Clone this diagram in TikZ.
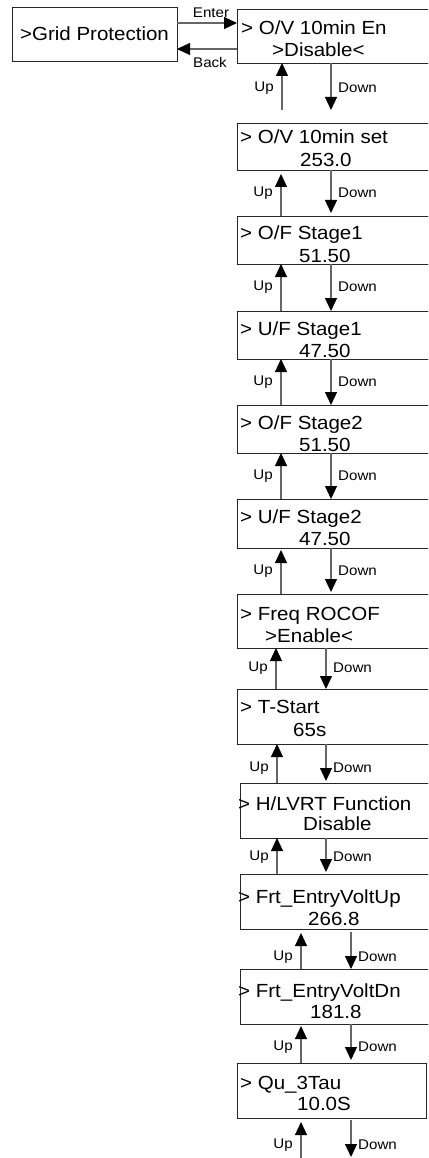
\documentclass[tikz,border=0pt]{standalone}
\usepackage{fontspec}
\setmainfont{Liberation Sans}
\usepackage{graphicx}
\usetikzlibrary{arrows.meta}
\newcommand{\bt}[1]{\scalebox{1.08}[1]{#1}}
\begin{document}
\begin{tikzpicture}[x=1pt,y=-1pt,
  box/.style={draw=black!85, line width=0.9pt, anchor=north west, inner sep=0pt, outer sep=0pt},
  txt/.style={anchor=base west, inner sep=0pt, font=\fontsize{19}{22}\selectfont},
  lab/.style={inner sep=0pt, font=\fontsize{14}{16}\selectfont},
  nav/.style={draw=black!60, line width=1.2pt, -{Triangle[length=13pt,width=12pt,color=black]}},
]
\clip (0,0) rectangle (428,1158);
% boxes
\node[box, minimum width=165pt, minimum height=54pt] (g) at (12,7) {};
\node[font=\fontsize{19}{22}\selectfont, inner sep=0pt] (gt) at (94.5,34) {\bt{>Grid Protection}};
\node[box, minimum width=210pt, minimum height=54pt] (b1) at (237,9) {};
\node[box, minimum width=210pt, minimum height=47pt] (b2) at (237,123) {};
\node[box, minimum width=210pt, minimum height=48pt] (b3) at (237,216) {};
\node[box, minimum width=210pt, minimum height=48pt] (b4) at (237,311) {};
\node[box, minimum width=210pt, minimum height=48pt] (b5) at (237,405) {};
\node[box, minimum width=210pt, minimum height=49pt] (b6) at (237,499) {};
\node[box, minimum width=210pt, minimum height=54pt] (b7) at (237,594) {};
\node[box, minimum width=210pt, minimum height=55pt] (b8) at (237,689) {};
\node[box, minimum width=210pt, minimum height=55pt] (b9) at (240,783) {};
\node[box, minimum width=210pt, minimum height=55pt] (b10) at (240,874) {};
\node[box, minimum width=210pt, minimum height=55pt] (b11) at (240,969) {};
\node[box, minimum width=189pt, minimum height=55pt] (b12) at (237,1063) {};
% texts
\node[txt] (t1a) at (241,35) {\bt{> O/V 10min En}};
\node[txt] (t1b) at (272,57) {\bt{>Disable<}};
\node[txt] (t2a) at (240,144) {\bt{> O/V 10min set}};
\node[txt] (t2b) at (300,167) {\bt{253.0}};
\node[txt] (t3a) at (240,240) {\bt{> O/F Stage1}};
\node[txt] (t3b) at (299,262) {\bt{51.50}};
\node[txt] (t4a) at (240,335) {\bt{> U/F Stage1}};
\node[txt] (t4b) at (299,357) {\bt{47.50}};
\node[txt] (t5a) at (240,429) {\bt{> O/F Stage2}};
\node[txt] (t5b) at (299,451) {\bt{51.50}};
\node[txt] (t6a) at (240,523) {\bt{> U/F Stage2}};
\node[txt] (t6b) at (299,545) {\bt{47.50}};
\node[txt] (t7a) at (240,620) {\bt{> Freq ROCOF}};
\node[txt] (t7b) at (265,642) {\bt{>Enable<}};
\node[txt] (t8a) at (240,713) {\bt{> T-Start}};
\node[txt] (t8b) at (293,736) {\bt{65s}};
\node[txt] (t9a) at (238,810) {\bt{> H/LVRT Function}};
\node[txt] (t9b) at (303,830) {\bt{Disable}};
\node[txt] (t10a) at (238,903) {\bt{> Frt\_EntryVoltUp}};
\node[txt] (t10b) at (308,925) {\bt{266.8}};
\node[txt] (t11a) at (238,997) {\bt{> Frt\_EntryVoltDn}};
\node[txt] (t11b) at (310,1018) {\bt{181.8}};
\node[txt] (t12a) at (240,1089) {\bt{> Qu\_3Tau}};
\node[txt] (t12b) at (297,1110) {\bt{10.0S}};
% enter / back
\draw[nav] (g.east |- 0,23) -- (b1.west |- 0,23);
\draw[nav] (b1.west |- 0,49) -- (g.east |- 0,49);
\node[lab] (enter) at (211,13) {\bt{Enter}};
\node[lab] (back) at (210,62) {\bt{Back}};
% up/down arrows
\draw[nav, shorten <=13pt] (b2.north -| 282,0) -- (b1.south -| 282,0);
\draw[nav, shorten >=13pt] (b1.south -| 331,0) -- (b2.north -| 331,0);
\draw[nav, shorten >=4pt] (b3.north -| 281,0) -- (b2.south -| 281,0);
\draw[nav, shorten >=3pt] (b2.south -| 331,0) -- (b3.north -| 331,0);
\draw[nav] (b4.north -| 281,0) -- (b3.south -| 281,0);
\draw[nav] (b3.south -| 331,0) -- (b4.north -| 331,0);
\draw[nav] (b5.north -| 281,0) -- (b4.south -| 281,0);
\draw[nav] (b4.south -| 331,0) -- (b5.north -| 331,0);
\draw[nav] (b6.north -| 281,0) -- (b5.south -| 281,0);
\draw[nav] (b5.south -| 331,0) -- (b6.north -| 331,0);
\draw[nav, shorten >=2pt] (b7.north -| 281,0) -- (b6.south -| 281,0);
\draw[nav, shorten >=2pt] (b6.south -| 331,0) -- (b7.north -| 331,0);
\draw[nav] (b8.north -| 276,0) -- (b7.south -| 276,0);
\draw[nav] (b7.south -| 326,0) -- (b8.north -| 326,0);
\draw[nav] (b9.north -| 277,0) -- (b8.south -| 277,0);
\draw[nav, shorten >=2pt] (b8.south -| 326,0) -- (b9.north -| 326,0);
\draw[nav] (b10.north -| 277,0) -- (b9.south -| 277,0);
\draw[nav, shorten >=2pt] (b9.south -| 326,0) -- (b10.north -| 326,0);
\draw[nav, shorten >=4pt] (b11.north -| 301,0) -- (b10.south -| 301,0);
\draw[nav, shorten <=3pt] (b10.south -| 351,0) -- (b11.north -| 351,0);
\draw[nav, shorten >=2pt] (b12.north -| 301,0) -- (b11.south -| 301,0);
\draw[nav, shorten >=3pt] (b11.south -| 351,0) -- (b12.north -| 351,0);
\coordinate (e1) at (301,1160);
\coordinate (e2) at (351,1157);
\draw[nav, shorten >=4pt] (e1) -- (b12.south -| 301,0);
\draw[nav, shorten <=2pt] (b12.south -| 351,0) -- (e2);
% labels
\foreach \ux/\dx/\yy [count=\i] in {282/331/88, 281/331/193, 281/331/287, 281/331/382, 281/331/476, 281/331/571, 276/326/668, 277/326/768, 277/326/857, 301/351/957, 301/351/1047, 301/351/1145}{
  \node[lab, anchor=east] (up\i) at (\ux-8,\yy) {\bt{Up}};
  \node[lab, anchor=west] (dn\i) at (\dx+7,\yy) {\bt{Down}};
}
\end{tikzpicture}
\end{document}
